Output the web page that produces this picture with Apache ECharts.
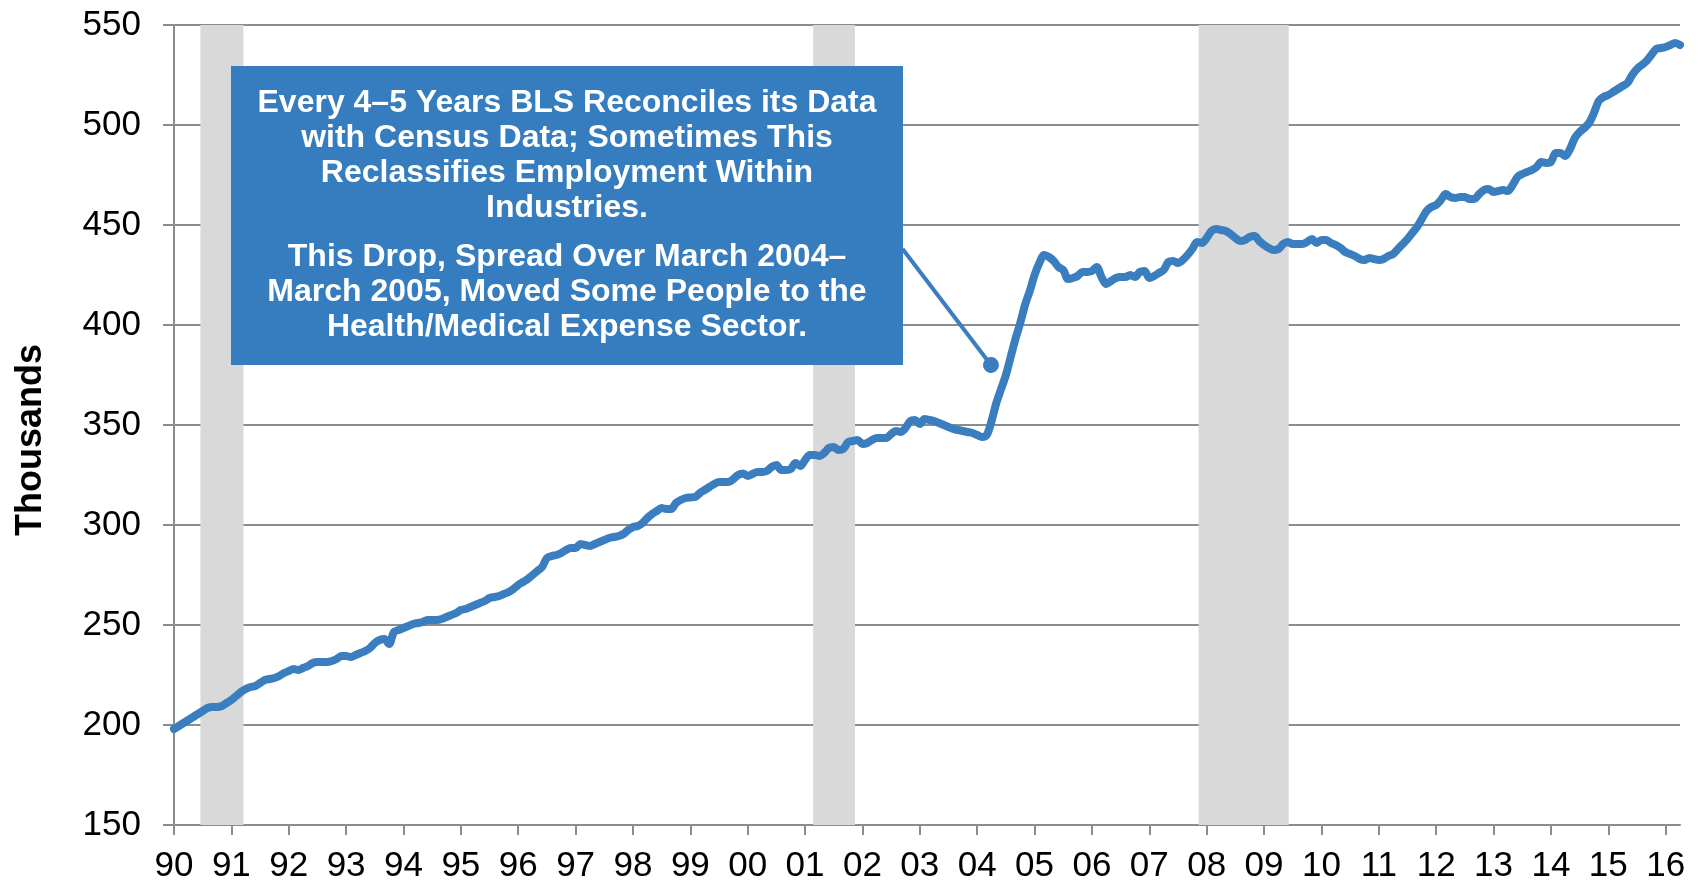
<!DOCTYPE html>
<html>
<head>
<meta charset="utf-8">
<script src="https://cdn.jsdelivr.net/npm/echarts@6.0.0/dist/echarts.min.js"></script>
<style>
  html, body { margin: 0; padding: 0; background: #ffffff; }
  #chart { width: 1700px; height: 887px; }
</style>
</head>
<body>
<div id="chart"></div>
<script>
// ---- Data (monthly, thousands) ----
const startYear = 1990;
const values1990s = [
  198, 199.5, 201, 202.5, 204, 205.5, 207, 208.5, 209, 209, 209.5, 211,
  212.5, 214.5, 216.5, 218, 219, 219.5, 221, 222.5, 223, 223.5, 224.5, 226,
  227, 228, 227.5, 228.5, 229.5, 231, 231.5, 231.5, 231.5, 232, 233, 234.5,
  234.5, 234, 235, 236, 237, 238.5, 241, 242.5, 243, 240.5, 246.5, 247.5,
  248.5, 249.5, 250.5, 251, 251.5, 252.5, 252.5, 252.5, 253, 254, 255, 256,
  257.5, 258, 259, 260, 261, 262, 263.5, 264, 264.5, 265.5, 266.5, 268,
  270, 271.5, 273, 275, 277, 279, 283.5, 284.5, 285, 286, 287.5, 288.5,
  288.5, 290.5, 290, 289.5, 290.5, 291.5, 292.5, 293.5, 294, 294.5, 295.5, 297.5,
  299, 299.5, 301, 303.5, 305.5, 307, 308.5, 308, 308, 311, 312.5, 313.5,
  313.8, 314, 316, 317.5, 319, 320.5, 321.5, 321.5, 321.5, 323, 325, 325.8
];
const values2000s = [
  324.5, 325.5, 326.5, 326.5, 327, 329, 330, 327.5, 327.5, 328, 331, 329.5,
  332.5, 335, 335, 334.5, 336, 338.5, 339, 337.5, 338, 341.5, 342, 342.5,
  340.5, 341, 342.5, 343.5, 343.5, 343.5, 345.5, 347, 346.5, 348.5, 352, 352.5,
  350.5, 353, 352.5, 352, 351, 350, 349, 348, 347.5, 347, 346.5, 346,
  345, 344, 345, 352, 361, 368, 375, 384, 393, 401, 410, 417,
  425, 431, 435, 434, 432, 429, 427.5, 423, 423.5, 424.5, 426.5, 426.5,
  427, 429, 424, 420.5, 422, 423.5, 424, 424, 425, 424, 426.5, 427,
  423.5, 424.5, 426, 427.5, 431.5, 432, 431, 432.5, 435, 438, 441.5, 441,
  443.5, 447, 448, 447.5, 447, 445.5, 443.5, 442, 442.5, 444, 444.5, 442,
  440, 438.5, 437.5, 438, 440.5, 441.5, 440.5, 440.5, 440.5, 441.5, 443, 441
];
const values2010s = [
  442.5, 442.5, 441, 440, 438.5, 436.5, 435.5, 434.5, 433, 432.5, 433.5, 433,
  432.5, 433, 434.5, 435.5, 438, 440.5, 443, 446, 449, 453, 457, 459,
  460, 462.5, 465.5, 464, 463.5, 464, 464, 463, 463, 465.5, 467.5, 468,
  466.5, 467, 467.5, 467, 470, 474, 475.5, 476.5, 477.5, 479, 481.5, 481,
  481.5, 486, 486, 484.5, 488, 493.5, 496.5, 498.5, 501, 506, 512, 514,
  515, 516.5, 518, 519.5, 521, 525, 528, 530, 532, 535, 538, 538.5,
  539, 540, 541, 540
];
// Recession periods (decimal years)
const recessions = [[1990.46, 1991.21], [2001.14, 2001.87], [2007.86, 2009.43]];
// Y axis ticks
const yMin = 150, yMax = 550, yStep = 50;
// Annotation
const noteLines1 = ['Every 4\u20135 Years BLS Reconciles its Data', 'with Census Data; Sometimes This', 'Reclassifies Employment Within', 'Industries.'];
const noteLines2 = ['This Drop, Spread Over March 2004\u2013', 'March 2005, Moved Some People to the', 'Health/Medical Expense Sector.'];
const pointerFrom = [2002.7, 438];
const pointerTo = [2004.24, 380];

const allValues = values1990s.concat(values2000s, values2010s);
const seriesData = allValues.map((v, i) => [startYear + i / 12, v]);

const BLUE = '#3A7EC0';
const GRID = '#8C8C8C';
const FONT = '"Liberation Sans", Arial, sans-serif';

const chart = echarts.init(document.getElementById('chart'), null, { renderer: 'canvas' });
chart.setOption({
  animation: false,
  backgroundColor: '#ffffff',
  grid: { left: 174, right: 20, top: 25, bottom: 62, containLabel: false },
  xAxis: {
    type: 'value',
    min: 1990,
    max: 2016.25,
    interval: 1,
    axisLine: { show: true, onZero: false, lineStyle: { color: GRID, width: 2 } },
    axisTick: { show: true, inside: false, length: 10, lineStyle: { color: GRID, width: 2 } },
    splitLine: { show: false },
    axisLabel: {
      color: '#000',
      fontFamily: FONT,
      fontSize: 35,
      margin: 24,
      showMaxLabel: false,
      formatter: v => Math.abs(v - Math.round(v)) < 1e-6
        ? String(Math.round(v) % 100).padStart(2, '0') : ''
    }
  },
  yAxis: {
    type: 'value',
    min: yMin,
    max: yMax,
    interval: yStep,
    name: 'Thousands',
    nameLocation: 'middle',
    nameRotate: 90,
    nameGap: 125,
    nameTextStyle: { color: '#000', fontFamily: FONT, fontSize: 36, fontWeight: 'bold', padding: [0, 30, 0, 0] },
    axisLine: { show: true, lineStyle: { color: GRID, width: 2 } },
    axisTick: { show: true, inside: false, length: 11, lineStyle: { color: GRID, width: 2 } },
    splitLine: { show: true, lineStyle: { color: GRID, width: 2 } },
    axisLabel: { color: '#000', fontFamily: FONT, fontSize: 35, margin: 33 }
  },
  series: [
    {
      name: 'recessions',
      type: 'line',
      data: [],
      z: 1,
      silent: true,
      markArea: {
        silent: true,
        itemStyle: { color: '#D9D9D9' },
        data: recessions.map(r => [{ xAxis: r[0] }, { xAxis: r[1] }])
      }
    },
    {
      name: 'Employment',
      type: 'line',
      data: seriesData,
      z: 3,
      showSymbol: false,
      smooth: 0.3,
      lineStyle: { color: BLUE, width: 8, cap: 'round', join: 'round' },
      itemStyle: { color: BLUE }
    },
    {
      name: 'pointer',
      type: 'line',
      data: [],
      z: 4,
      silent: true,
      markLine: {
        silent: true,
        symbol: ['none', 'circle'],
        symbolSize: 16,
        label: { show: false },
        lineStyle: { color: BLUE, width: 4, type: 'solid' },
        itemStyle: { color: BLUE },
        data: [[{ coord: pointerFrom }, { coord: pointerTo }]]
      }
    }
  ],
  graphic: [
    {
      type: 'rect',
      z: 100,
      shape: { x: 231, y: 66, width: 672, height: 299 },
      style: { fill: '#357DBF' }
    },
    {
      type: 'text',
      z: 101,
      style: {
        x: 567, y: 86,
        text: noteLines1.join('\n'),
        fill: '#ffffff',
        font: 'bold 32px ' + FONT,
        align: 'center',
        verticalAlign: 'top',
        lineHeight: 35
      }
    },
    {
      type: 'text',
      z: 101,
      style: {
        x: 567, y: 240,
        text: noteLines2.join('\n'),
        fill: '#ffffff',
        font: 'bold 32px ' + FONT,
        align: 'center',
        verticalAlign: 'top',
        lineHeight: 35
      }
    }
  ]
});
</script>
</body>
</html>
